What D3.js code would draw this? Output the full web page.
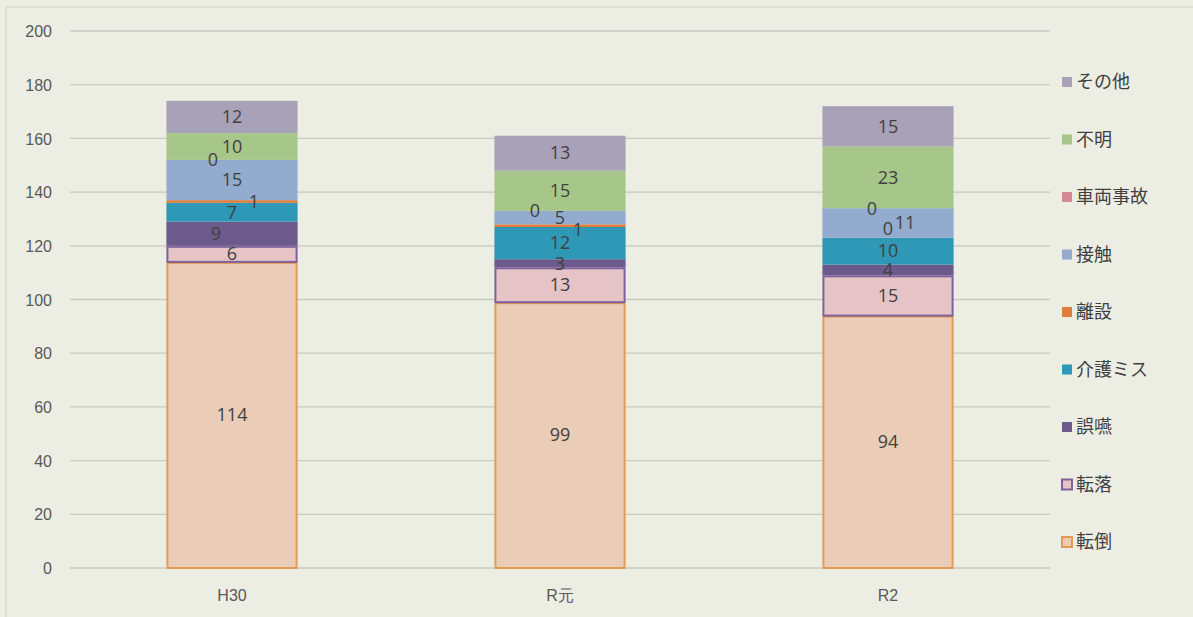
<!DOCTYPE html>
<meta charset="utf-8">
<script src="https://cdn.jsdelivr.net/npm/d3@7"></script>
<style>
body { margin: 0; background: #ecede3; }
svg { display: block; font-family: "Open Sans", "Noto Sans CJK JP", sans-serif; }
.grid line { stroke: #c9cac2; stroke-width: 1.3px; }
.axis text { fill: #595959; font-size: 16px; }
.label { fill: #404040; font-size: 18px; text-anchor: middle; }
.legend text { fill: #404040; font-size: 18px; font-family: "Noto Sans CJK JP", sans-serif; }
</style>
<body>
<script>

let width = 1193,
    height = 617;

// data
let years = ['H30', 'R元', 'R2'];
let categories = ['転倒', '転落', '誤嚥', '介護ミス', '離設', '接触', '車両事故', '不明', 'その他'];
let tentou    = [114, 99, 94];
let tenraku   = [6, 13, 15];
let goen      = [9, 3, 4];
let kaigoMiss = [7, 12, 10];
let risetsu   = [1, 1, 0];
let sesshoku  = [15, 5, 11];
let sharyou   = [0, 0, 0];
let fumei     = [10, 15, 23];
let sonota    = [12, 13, 15];
let yTicks = [0, 20, 40, 60, 80, 100, 120, 140, 160, 180, 200];

let values = [tentou, tenraku, goen, kaigoMiss, risetsu, sesshoku, sharyou, fumei, sonota];

let fills   = ['#ebcdb7', '#e6c3c6', '#6d5a8c', '#2f98b7', '#df7e3c', '#92abcf', '#d38993', '#a7c78a', '#a8a1b8'];
let strokes = ['#e39a55', '#7f629b', null, null, null, null, null, null, null];

// label nudges (Excel style overlap handling)
let nudge = {
  'H30|誤嚥': [-16, 0], 'H30|離設': [22, 0], 'H30|車両事故': [-19, 0],
  'R元|離設': [18, 4], 'R元|車両事故': [-25, 0],
  'R2|接触': [17, 0], 'R2|車両事故': [-16, 0], 'R2|離設': [0, -9]
};

let rows = years.map((y, i) => {
  let r = { year: y };
  categories.forEach((c, j) => r[c] = values[j][i]);
  return r;
});

let svg = d3.select("body").append("svg")
    .attr("width", width)
    .attr("height", height);

// frame
svg.append("rect")
    .attr("x", 6).attr("y", 7)
    .attr("width", width + 10).attr("height", height + 10)
    .attr("fill", "none")
    .attr("stroke", "#d4d5cc")
    .attr("stroke-width", 1.3);

let x = d3.scaleBand()
    .domain(years)
    .range([68, 1052])
    .paddingInner(0.6)
    .paddingOuter(0.3);

let y = d3.scaleLinear()
    .domain([0, 200])
    .range([568, 31]);

svg.append("g")
    .attr("class", "grid")
    .selectAll("line")
    .data(yTicks)
    .enter().append("line")
    .attr("x1", 70).attr("x2", 1050)
    .attr("y1", d => y(d)).attr("y2", d => y(d));

let yAxis = svg.append("g")
    .attr("class", "axis")
    .attr("transform", "translate(52,0)")
    .call(d3.axisLeft(y).tickValues(yTicks).tickSize(0).tickPadding(0));
yAxis.select(".domain").remove();
yAxis.selectAll("text").attr("dy", "0.35em");

let xAxis = svg.append("g")
    .attr("class", "axis")
    .attr("transform", "translate(0,584)")
    .call(d3.axisBottom(x).tickSize(0).tickPadding(6));
xAxis.select(".domain").remove();

let stack = d3.stack().keys(categories);
let layers = stack(rows);

let layer = svg.selectAll(".layer")
    .data(layers)
    .enter().append("g")
    .attr("class", "layer");

layer.selectAll("rect")
    .data(d => d.map(p => ({ key: d.key, idx: d.index, p: p })))
    .enter().append("rect")
    .filter(d => d.p[1] > d.p[0])
    .attr("x", d => x(d.p.data.year) + (strokes[d.idx] ? 1 : 0))
    .attr("width", d => x.bandwidth() - (strokes[d.idx] ? 2 : 0))
    .attr("y", d => y(d.p[1]) + (strokes[d.idx] ? 1 : 0))
    .attr("height", d => y(d.p[0]) - y(d.p[1]) - (strokes[d.idx] ? 1 : 0))
    .attr("fill", d => fills[d.idx])
    .attr("stroke", d => strokes[d.idx] || "none")
    .attr("stroke-width", 2);

svg.append("g")
    .selectAll("text")
    .data(layers.flatMap(l => l.map(p => ({ key: l.key, p: p }))))
    .enter().append("text")
    .attr("class", "label")
    .attr("x", d => x(d.p.data.year) + x.bandwidth() / 2 + (nudge[d.p.data.year + '|' + d.key] || [0, 0])[0])
    .attr("y", d => y((d.p[0] + d.p[1]) / 2) + (nudge[d.p.data.year + '|' + d.key] || [0, 0])[1])
    .attr("dy", "0.35em")
    .text(d => d.p[1] - d.p[0]);

// legend, top item is the last category
let legend = svg.append("g")
    .attr("class", "legend")
    .selectAll("g")
    .data(categories.slice().reverse())
    .enter().append("g")
    .attr("transform", (d, i) => "translate(1062," + (82 + i * 57.5) + ")");

legend.append("rect")
    .attr("x", 0).attr("y", -5)
    .attr("width", 10).attr("height", 10)
    .attr("fill", d => fills[categories.indexOf(d)])
    .attr("stroke", d => strokes[categories.indexOf(d)] || "none")
    .attr("stroke-width", 2);

legend.append("text")
    .attr("x", 14)
    .attr("dy", "0.35em")
    .text(d => d);

</script>
